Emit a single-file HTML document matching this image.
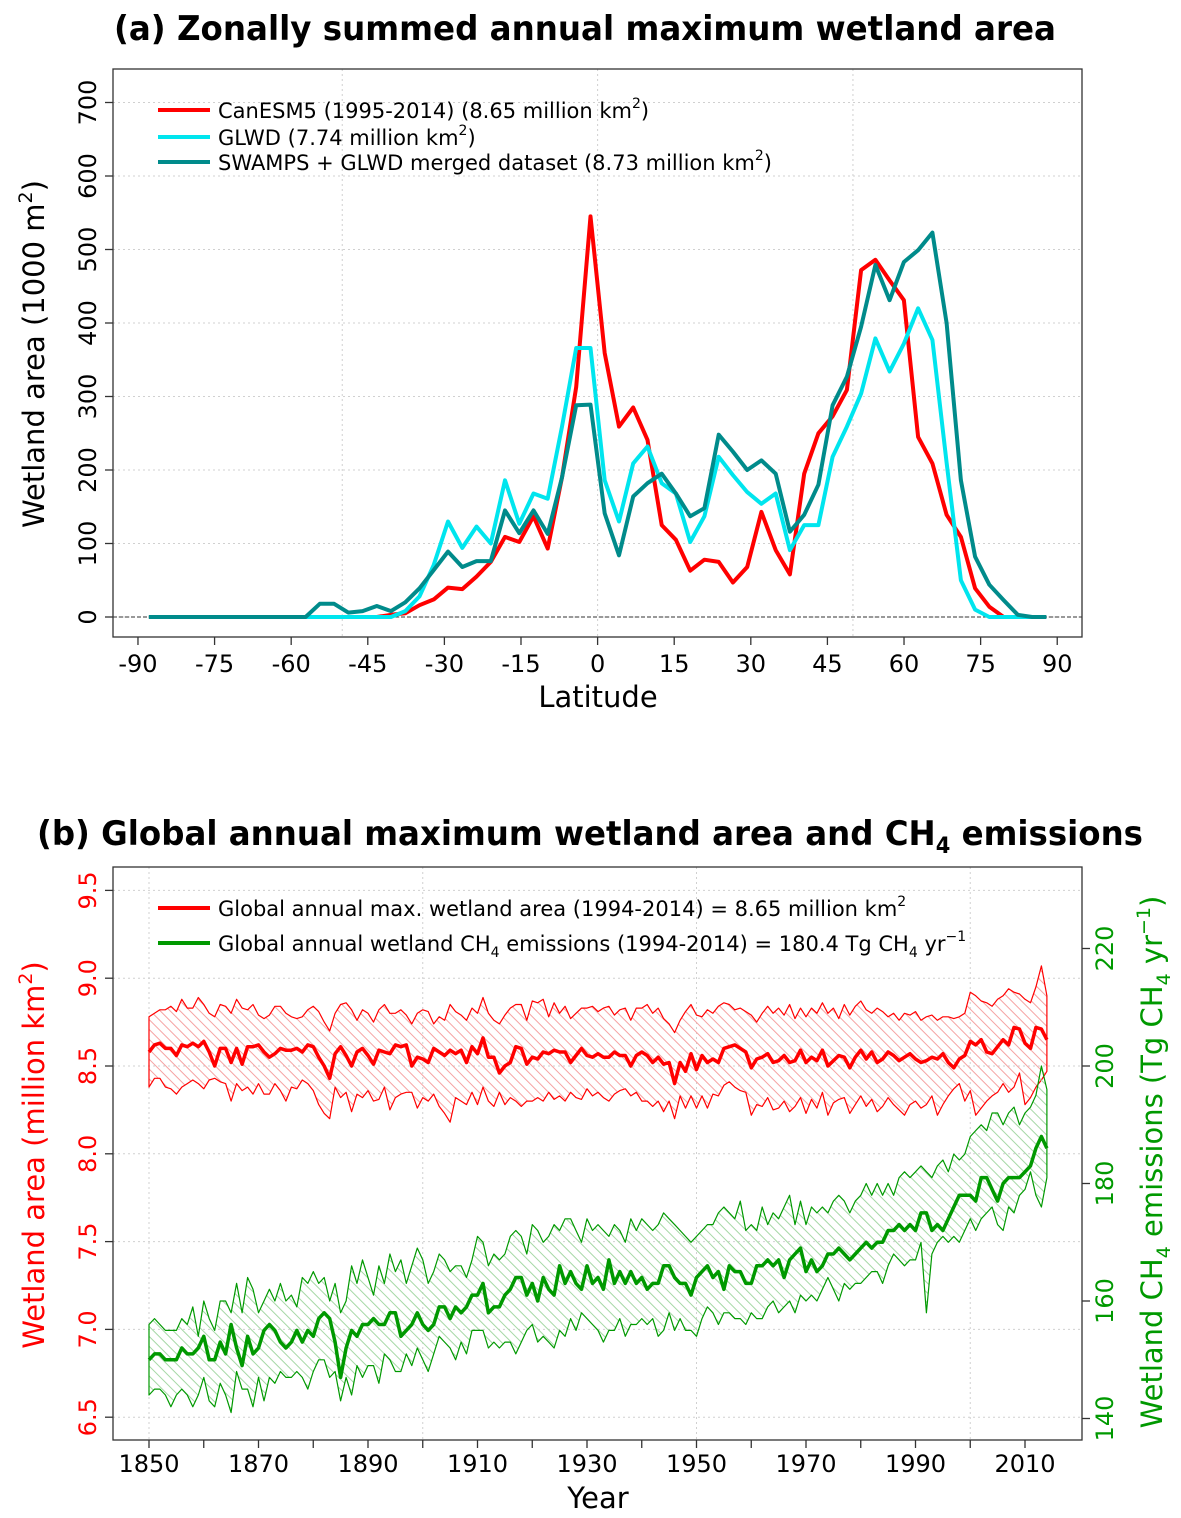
<!DOCTYPE html>
<html><head><meta charset="utf-8"><style>
html,body{margin:0;padding:0;background:#fff;}
svg{display:block;font-family:"DejaVu Sans","Liberation Sans",sans-serif;}
</style></head><body>
<svg id="fig" width="1181" height="1518" viewBox="0 0 1181 1518" xmlns="http://www.w3.org/2000/svg">
<defs>
<pattern id="hatchRed" patternUnits="userSpaceOnUse" width="7" height="7" patternTransform="rotate(-45)"><line x1="0" y1="0" x2="0" y2="7" stroke="#f5a3a3" stroke-width="2"/></pattern>
<pattern id="hatchGreen" patternUnits="userSpaceOnUse" width="7" height="7" patternTransform="rotate(-45)"><line x1="0" y1="0" x2="0" y2="7" stroke="#a6d8a6" stroke-width="2"/></pattern>
</defs>
<text x="585" y="40" text-anchor="middle" font-size="34" font-weight="bold" textLength="942" lengthAdjust="spacingAndGlyphs">(a) Zonally summed annual maximum wetland area</text>
<g id="gA"></g>
<text x="598" y="707" text-anchor="middle" font-size="29">Latitude</text>
<text transform="translate(44,354) rotate(-90)" text-anchor="middle" font-size="29">Wetland area (1000 m<tspan font-size="19" dy="-12">2</tspan><tspan dy="12">)</tspan></text>
<g>
<line x1="158" y1="110" x2="210" y2="110" stroke="#ff0000" stroke-width="4"/>
<text x="218" y="118" font-size="21">CanESM5 (1995-2014) (8.65 million km<tspan font-size="14" dy="-10">2</tspan><tspan dy="10">)</tspan></text>
<line x1="158" y1="137" x2="210" y2="137" stroke="#00e5ee" stroke-width="4"/>
<text x="218" y="145" font-size="21">GLWD (7.74 million km<tspan font-size="14" dy="-10">2</tspan><tspan dy="10">)</tspan></text>
<line x1="158" y1="162" x2="210" y2="162" stroke="#008b8b" stroke-width="4"/>
<text x="218" y="170" font-size="21">SWAMPS + GLWD merged dataset (8.73 million km<tspan font-size="14" dy="-10">2</tspan><tspan dy="10">)</tspan></text>
</g>

<text x="590" y="845" text-anchor="middle" font-size="34" font-weight="bold" textLength="1106" lengthAdjust="spacingAndGlyphs">(b) Global annual maximum wetland area and CH<tspan font-size="22" dy="8">4</tspan><tspan dy="-8"> emissions</tspan></text>
<g id="gB"></g>
<text x="598" y="1508" text-anchor="middle" font-size="29">Year</text>
<text transform="translate(44,1155) rotate(-90)" text-anchor="middle" font-size="29" fill="#ff0000">Wetland area (million km<tspan font-size="19" dy="-12">2</tspan><tspan dy="12">)</tspan></text>
<text transform="translate(1162,1162) rotate(-90)" text-anchor="middle" font-size="29" fill="#009900">Wetland CH<tspan font-size="19" dy="8">4</tspan><tspan dy="-8"> emissions (Tg CH</tspan><tspan font-size="19" dy="8">4</tspan><tspan dy="-8"> yr</tspan><tspan font-size="19" dy="-12">−1</tspan><tspan dy="12">)</tspan></text>
<g>
<line x1="158" y1="908" x2="210" y2="908" stroke="#ff0000" stroke-width="4"/>
<text x="218" y="916" font-size="21">Global annual max. wetland area (1994-2014) = 8.65 million km<tspan font-size="14" dy="-10">2</tspan></text>
<line x1="158" y1="943" x2="210" y2="943" stroke="#009900" stroke-width="4"/>
<text x="218" y="951" font-size="21">Global annual wetland CH<tspan font-size="14" dy="6">4</tspan><tspan dy="-6"> emissions (1994-2014) = 180.4 Tg CH</tspan><tspan font-size="14" dy="6">4</tspan><tspan dy="-6">  yr</tspan><tspan font-size="14" dy="-10">−1</tspan></text>
</g>
</svg>
<script>
// ---------- Panel (a) data ----------
const lats=[-87.86,-85.07,-82.28,-79.49,-76.70,-73.91,-71.13,-68.34,-65.55,-62.76,-59.97,-57.18,-54.39,-51.60,-48.81,-46.02,-43.23,-40.45,-37.66,-34.87,-32.08,-29.29,-26.50,-23.71,-20.92,-18.13,-15.34,-12.55,-9.77,-6.98,-4.19,-1.40,1.40,4.19,6.98,9.77,12.55,15.34,18.13,20.92,23.71,26.50,29.29,32.08,34.87,37.66,40.45,43.23,46.02,48.81,51.60,54.39,57.18,59.97,62.76,65.55,68.34,71.13,73.91,76.70,79.49,82.28,85.07,87.86];
const canesm=[0,0,0,0,0,0,0,0,0,0,0,0,0,0,0,0,0,3,5,16,24,40,38,55,75,109,102,137,93,190,313,545,359,259,285,241,125,105,63,78,75,47,68,143,91,58,195,250,273,309,472,486,458,431,245,209,139,109,39,14,0,0,0,0];
const glwd=[0,0,0,0,0,0,0,0,0,0,0,0,0,0,0,0,0,0,8,28,71,130,94,123,100,186,127,168,161,259,366,366,186,130,209,232,182,168,102,137,218,193,170,154,168,91,125,125,218,259,304,379,334,372,420,377,210,50,10,0,0,0,0,0];
const swamps=[0,0,0,0,0,0,0,0,0,0,0,0,18,18,6,8,15,8,20,39,64,89,68,76,76,145,114,145,113,190,288,289,141,84,164,182,195,168,137,148,248,225,200,213,195,116,139,180,288,327,395,479,431,483,499,523,400,186,82,44,23,3,0,0];
const latTicks=[-90,-75,-60,-45,-30,-15,0,15,30,45,60,75,90];
const areaTicksA=[0,100,200,300,400,500,600,700];

// ---------- Panel (b) data ----------
const yearsStart=1850;
const areaMean=[8.58,8.62,8.63,8.60,8.60,8.56,8.62,8.61,8.63,8.61,
8.64,8.58,8.50,8.60,8.60,8.52,8.60,8.51,8.61,8.61,
8.62,8.58,8.55,8.57,8.60,8.59,8.59,8.60,8.58,8.62,
8.61,8.55,8.50,8.43,8.57,8.61,8.56,8.50,8.58,8.60,
8.56,8.51,8.59,8.58,8.57,8.62,8.61,8.62,8.50,8.55,
8.54,8.52,8.60,8.58,8.56,8.59,8.57,8.59,8.52,8.61,
8.57,8.66,8.55,8.55,8.46,8.50,8.52,8.61,8.60,8.51,
8.55,8.54,8.58,8.57,8.59,8.58,8.58,8.52,8.56,8.60,
8.56,8.55,8.57,8.55,8.55,8.58,8.56,8.56,8.50,8.56,
8.58,8.56,8.52,8.55,8.51,8.52,8.40,8.52,8.47,8.57,
8.48,8.56,8.52,8.54,8.52,8.60,8.61,8.62,8.60,8.58,
8.49,8.54,8.55,8.57,8.52,8.53,8.56,8.52,8.53,8.59,
8.52,8.55,8.53,8.59,8.50,8.53,8.56,8.55,8.49,8.55,
8.59,8.54,8.58,8.52,8.54,8.58,8.56,8.53,8.55,8.57,
8.54,8.52,8.53,8.55,8.54,8.57,8.52,8.49,8.54,8.56,
8.64,8.62,8.65,8.58,8.57,8.61,8.65,8.62,8.72,8.71,
8.63,8.60,8.72,8.71,8.65];
const areaUpper=[8.78,8.80,8.82,8.82,8.84,8.81,8.88,8.83,8.83,8.89,
8.85,8.80,8.78,8.85,8.84,8.80,8.88,8.83,8.82,8.85,
8.79,8.77,8.79,8.84,8.84,8.80,8.78,8.77,8.78,8.82,
8.84,8.81,8.75,8.70,8.80,8.85,8.86,8.82,8.76,8.82,
8.80,8.75,8.82,8.85,8.80,8.80,8.82,8.79,8.74,8.80,
8.82,8.81,8.74,8.78,8.76,8.85,8.81,8.79,8.76,8.83,
8.80,8.89,8.80,8.76,8.74,8.79,8.83,8.85,8.85,8.76,
8.87,8.86,8.88,8.78,8.86,8.80,8.84,8.77,8.80,8.83,
8.83,8.84,8.81,8.83,8.84,8.79,8.82,8.83,8.76,8.83,
8.83,8.85,8.80,8.83,8.77,8.74,8.69,8.76,8.81,8.85,
8.79,8.78,8.82,8.80,8.84,8.86,8.85,8.82,8.83,8.81,
8.79,8.75,8.80,8.84,8.80,8.83,8.79,8.85,8.77,8.83,
8.78,8.83,8.80,8.86,8.80,8.83,8.77,8.85,8.79,8.84,
8.87,8.82,8.80,8.83,8.81,8.78,8.80,8.76,8.80,8.79,
8.81,8.76,8.78,8.79,8.76,8.78,8.78,8.77,8.78,8.80,
8.92,8.90,8.87,8.86,8.84,8.88,8.90,8.94,8.92,8.91,
8.88,8.86,8.95,9.07,8.90];
const areaLower=[8.38,8.43,8.43,8.38,8.37,8.34,8.38,8.40,8.42,8.40,
8.37,8.42,8.43,8.41,8.40,8.30,8.40,8.36,8.38,8.34,
8.40,8.34,8.34,8.40,8.36,8.30,8.38,8.37,8.42,8.40,
8.36,8.28,8.23,8.20,8.38,8.32,8.35,8.24,8.34,8.32,
8.36,8.30,8.31,8.38,8.25,8.32,8.34,8.35,8.35,8.26,
8.32,8.30,8.34,8.27,8.23,8.18,8.32,8.30,8.28,8.35,
8.28,8.38,8.30,8.27,8.35,8.28,8.32,8.30,8.27,8.30,
8.30,8.32,8.30,8.35,8.31,8.33,8.30,8.35,8.32,8.31,
8.37,8.33,8.35,8.32,8.30,8.34,8.36,8.37,8.33,8.35,
8.30,8.30,8.27,8.30,8.24,8.30,8.20,8.33,8.26,8.33,
8.26,8.33,8.26,8.34,8.33,8.39,8.41,8.38,8.36,8.35,
8.22,8.28,8.27,8.32,8.25,8.26,8.30,8.24,8.27,8.32,
8.23,8.31,8.26,8.35,8.22,8.29,8.31,8.32,8.23,8.28,
8.33,8.27,8.31,8.24,8.27,8.32,8.28,8.25,8.22,8.28,
8.30,8.26,8.28,8.33,8.22,8.28,8.33,8.37,8.40,8.30,
8.36,8.22,8.26,8.30,8.33,8.35,8.40,8.35,8.38,8.46,
8.28,8.32,8.38,8.42,8.47];
const ch4Mean=[150,151,151,150,150,150,152,151,151,152,
154,150,150,153,151,156,152,149,154,151,
152,155,156,155,153,152,153,155,153,155,
154,157,158,157,153,147,152,155,154,156,
156,157,156,156,158,158,154,155,156,158,
156,155,156,159,159,157,159,158,159,161,
161,163,158,159,159,161,162,164,164,161,
163,160,164,162,161,166,163,165,163,162,
166,163,164,162,167,163,165,163,165,163,
164,162,163,163,166,166,164,163,163,161,
164,165,166,164,165,162,166,165,165,163,
163,166,166,167,166,167,164,167,168,169,
165,167,165,166,168,168,169,168,167,168,
169,170,169,170,170,172,172,173,172,173,
172,175,175,172,173,172,174,176,178,178,
178,177,181,181,179,177,180,181,181,181,
182,183,186,188,186];
const ch4Upper=[156,157,156,155,155,155,157,156,159,154,
160,157,155,160,160,158,163,158,164,162,
158,160,162,160,163,160,161,159,164,163,
165,163,164,160,163,158,160,166,163,167,
164,161,166,163,168,165,167,163,166,169,
167,163,165,168,167,165,166,166,164,167,
171,170,166,168,167,168,171,172,171,168,
173,172,170,171,173,172,174,174,172,170,
174,172,173,172,171,173,172,170,174,172,
174,173,172,173,175,174,173,172,171,170,
171,172,173,173,175,176,175,174,177,172,
173,172,176,173,175,174,176,178,173,177,
173,176,175,176,175,177,178,177,175,177,
178,180,178,180,178,180,178,181,182,181,
182,183,182,181,183,184,182,185,184,185,
188,189,190,189,192,192,190,192,193,190,
192,193,195,200,196];
const ch4Lower=[144,145,145,144,142,144,145,144,142,144,
147,143,142,146,144,141,148,145,145,142,
147,143,147,146,148,147,147,148,147,145,
148,150,150,147,148,143,147,144,149,147,
149,149,146,151,150,148,148,151,149,152,
150,148,151,154,153,152,150,153,151,155,
155,155,152,153,152,153,153,151,153,155,
156,153,154,153,152,155,154,157,155,158,
157,156,155,153,155,155,157,154,156,156,
157,156,157,154,155,158,155,157,155,155,
154,157,159,158,156,158,158,157,157,156,
158,157,157,159,160,158,159,160,158,161,
160,161,160,162,164,162,160,163,162,163,
163,164,165,165,163,166,168,167,166,167,
167,170,158,168,170,171,170,171,170,172,
174,172,174,175,176,173,172,176,175,178,
179,182,178,176,181];
const yearTicks=[1850,1870,1890,1910,1930,1950,1970,1990,2010];
const areaTicksB=[6.5,7.0,7.5,8.0,8.5,9.0,9.5];
const ch4Ticks=[140,160,180,200,220];

const NS='http://www.w3.org/2000/svg';
function mk(parent,tag,attrs){const e=document.createElementNS(NS,tag);for(const k in attrs)e.setAttribute(k,attrs[k]);parent.appendChild(e);return e;}

// ---------- Panel (a) ----------
const gA=document.getElementById('gA');
const xA=lat=>597.6+lat*5.107;
const yA=v=>617-v*0.735;
const boxA={l:113,r:1082,t:69,b:637};
[-50,0,50].forEach(g=>{const e=mk(gA,'line',{x1:xA(g),x2:xA(g),y1:boxA.t,y2:boxA.b,stroke:'#d0d0d0','stroke-dasharray':'2,3'});

});
areaTicksA.forEach(t=>{const e=mk(gA,'line',{x1:boxA.l,x2:boxA.r,y1:yA(t),y2:yA(t),stroke:'#d0d0d0','stroke-dasharray':'2,3'});

});
{const e=mk(gA,'line',{x1:boxA.l,x2:boxA.r,y1:yA(0),y2:yA(0),stroke:'#333','stroke-width':1,'stroke-dasharray':'4,2'});

}
function lineA(vals,color,w,name){const d=vals.map((v,i)=>(i?'L':'M')+xA(lats[i]).toFixed(1)+','+yA(v).toFixed(1)).join('');
const e=mk(gA,'path',{d:d,fill:'none',stroke:color,'stroke-width':w,'stroke-linejoin':'round'});

}
lineA(canesm,'#ff0000',4,'canesm5-line');
lineA(glwd,'#00e5ee',4,'glwd-line');
lineA(swamps,'#008b8b',4,'swamps-line');
{const e=mk(gA,'rect',{x:boxA.l,y:boxA.t,width:boxA.r-boxA.l,height:boxA.b-boxA.t,fill:'none',stroke:'#333','stroke-width':1.3});

}
latTicks.forEach(t=>{mk(gA,'line',{x1:xA(t),x2:xA(t),y1:boxA.b,y2:boxA.b+8,stroke:'#333','stroke-width':1.3});
const e=mk(gA,'text',{x:xA(t),y:672,'text-anchor':'middle','font-size':24});e.textContent=t;

});
areaTicksA.forEach(t=>{mk(gA,'line',{x1:boxA.l-8,x2:boxA.l,y1:yA(t),y2:yA(t),stroke:'#333','stroke-width':1.3});
const e=mk(gA,'text',{transform:`translate(96,${yA(t)}) rotate(-90)`,'text-anchor':'middle','font-size':24});e.textContent=t;

});

// ---------- Panel (b) ----------
const gB=document.getElementById('gB');
const xB=yr=>149+(yr-1850)*5.475;
const yL=v=>1066-(v-8.5)*175.6;
const yR=v=>1066-(v-200)*5.875;
const boxB={l:113,r:1082,t:867,b:1440};
[1850,1900,1950,2000].forEach(g=>{const e=mk(gB,'line',{x1:xB(g),x2:xB(g),y1:boxB.t,y2:boxB.b,stroke:'#d0d0d0','stroke-dasharray':'2,3'});

});
areaTicksB.forEach(t=>{const e=mk(gB,'line',{x1:boxB.l,x2:boxB.r,y1:yL(t),y2:yL(t),stroke:'#d0d0d0','stroke-dasharray':'2,3'});

});
function pts(vals,fy){return vals.map((v,i)=>[xB(yearsStart+i),fy(v)]);}
function pathOf(p){return p.map((q,i)=>(i?'L':'M')+q[0].toFixed(1)+','+q[1].toFixed(1)).join('');}
function band(up,lo,mean,fy,color,hatch,nm){
const pu=pts(up,fy),pl=pts(lo,fy);
const d=pathOf(pu)+pl.slice().reverse().map(q=>'L'+q[0].toFixed(1)+','+q[1].toFixed(1)).join('')+'Z';
const f=mk(gB,'path',{d:d,fill:'url(#'+hatch+')',stroke:color,'stroke-width':1.2,'stroke-linejoin':'round'});


const m=mk(gB,'path',{d:pathOf(pts(mean,fy)),fill:'none',stroke:color,'stroke-width':3.5,'stroke-linejoin':'round'});

}
band(areaUpper,areaLower,areaMean,yL,'#ff0000','hatchRed','wetland-area');
band(ch4Upper,ch4Lower,ch4Mean,yR,'#009900','hatchGreen','ch4-emissions');
{const e=mk(gB,'rect',{x:boxB.l,y:boxB.t,width:boxB.r-boxB.l,height:boxB.b-boxB.t,fill:'none',stroke:'#333','stroke-width':1.3});

}
for(let yr=1850;yr<=2010;yr+=10){mk(gB,'line',{x1:xB(yr),x2:xB(yr),y1:boxB.b,y2:boxB.b+8,stroke:'#333','stroke-width':1.3});}
yearTicks.forEach(t=>{const e=mk(gB,'text',{x:xB(t),y:1472,'text-anchor':'middle','font-size':24});e.textContent=t;

});
areaTicksB.forEach(t=>{mk(gB,'line',{x1:boxB.l-8,x2:boxB.l,y1:yL(t),y2:yL(t),stroke:'#333','stroke-width':1.3});
const e=mk(gB,'text',{transform:`translate(96,${yL(t)}) rotate(-90)`,'text-anchor':'middle','font-size':24,fill:'#ff0000'});e.textContent=t.toFixed(1);

});
ch4Ticks.forEach(t=>{mk(gB,'line',{x1:boxB.r,x2:boxB.r+8,y1:yR(t),y2:yR(t),stroke:'#333','stroke-width':1.3});
const e=mk(gB,'text',{transform:`translate(1113,${yR(t)}) rotate(-90)`,'text-anchor':'middle','font-size':24,fill:'#009900'});e.textContent=t;

});
</script>
</body></html>
